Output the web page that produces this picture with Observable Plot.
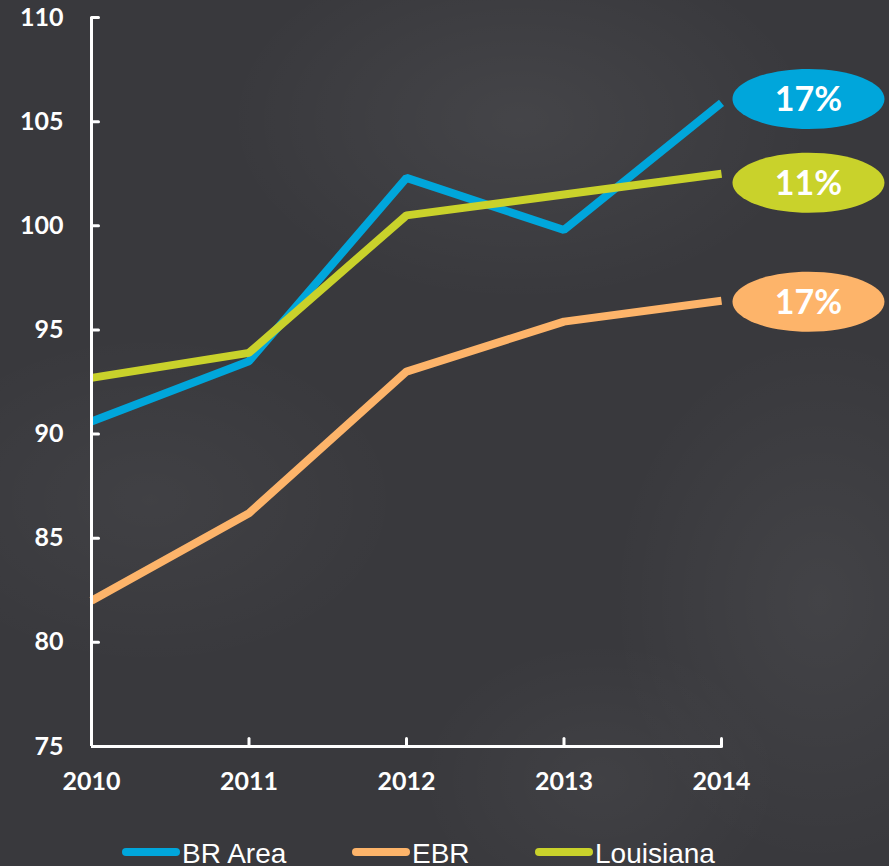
<!DOCTYPE html>
<html>
<head>
<meta charset="utf-8">
<script src="https://cdn.jsdelivr.net/npm/d3@7"></script>
<script src="https://cdn.jsdelivr.net/npm/@observablehq/plot@0.6"></script>
<style>
html, body { margin: 0; padding: 0; background: #3a3a3e; }
#wrap {
  position: relative; width: 889px; height: 866px; overflow: hidden;
  background:
    radial-gradient(ellipse 420px 260px at 520px 120px, rgba(255,255,255,0.06), rgba(255,255,255,0) 70%),
    radial-gradient(ellipse 300px 380px at 820px 600px, rgba(255,255,255,0.05), rgba(255,255,255,0) 70%),
    radial-gradient(ellipse 360px 240px at 150px 500px, rgba(255,255,255,0.04), rgba(255,255,255,0) 70%),
    radial-gradient(ellipse 260px 200px at 600px 780px, rgba(255,255,255,0.04), rgba(255,255,255,0) 70%),
    #39393d;
}
#chart svg { display: block; font-family: Lato, "Noto Sans", sans-serif; }
#chart svg text { font-weight: 700; }
.legend-swatch { position: absolute; width: 58px; height: 8px; border-radius: 4px; }
.legend-text { position: absolute; font-family: "Liberation Sans", Arial, sans-serif; font-size: 28px; line-height: 1; color: #fff; white-space: nowrap; }
</style>
</head>
<body>
<div id="wrap"><div id="chart"></div><div id="legend"></div></div>
<script>
// ---- data ----
const years = [2010, 2011, 2012, 2013, 2014];
const brArea = [90.6, 93.5, 102.3, 99.8, 105.9];
const ebr = [82.0, 86.2, 93.0, 95.4, 96.4];
const louisiana = [92.7, 93.9, 100.5, 101.5, 102.5];
const seriesNames = ["BR Area", "EBR", "Louisiana"];
const seriesColors = ["#00a6db", "#fdb46a", "#c9d22b"];
const growthLabels = ["17%", "17%", "11%"];
const yTicks = [75, 80, 85, 90, 95, 100, 105, 110];

const seriesValues = [brArea, ebr, louisiana];
const rows = [];
seriesNames.forEach((s, i) => years.forEach((y, j) => rows.push({series: s, year: y, value: seriesValues[i][j]})));
const ends = seriesNames.map((s, i) => ({series: s, year: years[years.length - 1], value: seriesValues[i][years.length - 1], label: growthLabels[i]}));

// ellipse symbol for growth badges
const ellipse = {
  draw(ctx) {
    const rx = 76, ry = 30, k = 0.5523;
    ctx.moveTo(-rx, 0);
    ctx.bezierCurveTo(-rx, -ry * k, -rx * k, -ry, 0, -ry);
    ctx.bezierCurveTo(rx * k, -ry, rx, -ry * k, rx, 0);
    ctx.bezierCurveTo(rx, ry * k, rx * k, ry, 0, ry);
    ctx.bezierCurveTo(-rx * k, ry, -rx, ry * k, -rx, 0);
    ctx.closePath();
  }
};
const tickShape = { draw(ctx, l) { ctx.moveTo(0, 0); ctx.lineTo(0, -l); } };
const badgeDy = {"BR Area": -4, "EBR": 1, "Louisiana": 9};

const color = {domain: seriesNames, range: seriesColors};

const plot = Plot.plot({
  width: 889,
  height: 830,
  marginLeft: 91,
  marginRight: 168,
  marginTop: 17,
  marginBottom: 84,
  x: {domain: [2010, 2014], label: null},
  y: {domain: [75, 110], label: null},
  color,
  style: {background: "transparent", color: "#fff", overflow: "visible"},
  marks: [
    Plot.line(rows, {x: "year", y: "value", z: "series", stroke: "series", strokeWidth: 8, strokeLinecap: "butt", strokeLinejoin: "miter"}),
    Plot.ruleX([2010], {y1: 75, y2: 110, stroke: "#fff", strokeWidth: 3}),
    Plot.ruleY([75], {x1: 2010, x2: 2014, stroke: "#fff", strokeWidth: 3}),
    Plot.vector(yTicks.slice(1), {x: 2010, y: d => d, length: 7, rotate: 90, anchor: "start", shape: tickShape, stroke: "#fff", strokeWidth: 3}),
    Plot.vector(years.slice(1), {x: d => d, y: 75, length: 8, rotate: 0, anchor: "start", shape: tickShape, stroke: "#fff", strokeWidth: 3}),
    Plot.axisY({ticks: yTicks, tickSize: 0, tickPadding: 28, fontSize: 25, fill: "#fff", label: null}),
    Plot.axisX({ticks: years, tickFormat: "d", tickSize: 0, tickPadding: 26, fontSize: 25, fill: "#fff", label: null}),
    ...ends.map(e => Plot.dot([e], {x: "year", y: "value", symbol: ellipse, fill: "series", stroke: null, dx: 87, dy: badgeDy[e.series]})),
    ...ends.map(e => Plot.text([e], {x: "year", y: "value", text: "label", fill: "#fff", fontSize: 34, fontWeight: 800, dx: 87, dy: badgeDy[e.series] + 1}))
  ]
});
document.getElementById("chart").appendChild(plot);

// legend below the chart
const legend = document.getElementById("legend");
const legendX = [122, 352, 535];
seriesNames.forEach((s, i) => {
  const sw = document.createElement("div");
  sw.className = "legend-swatch";
  sw.style.left = legendX[i] + "px";
  sw.style.top = "848px";
  sw.style.background = seriesColors[i];
  legend.appendChild(sw);
  const t = document.createElement("div");
  t.className = "legend-text";
  t.style.left = (legendX[i] + 60) + "px";
  t.style.top = "840px";
  t.textContent = s;
  legend.appendChild(t);
});
legend.style.position = "absolute";
legend.style.left = "0"; legend.style.top = "0";
</script>
</body>
</html>
